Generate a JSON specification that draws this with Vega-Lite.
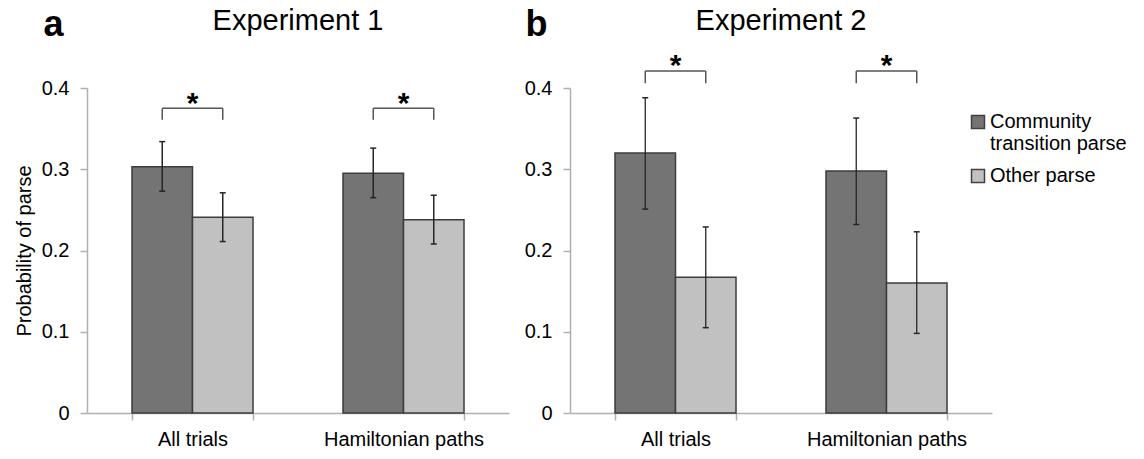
{
  "$schema": "https://vega.github.io/schema/vega-lite/v6.json",
  "padding": {"left": 14, "top": 6, "right": 4, "bottom": 5},
  "background": "white",
  "config": {
    "view": {"stroke": null},
    "font": "Liberation Sans",
    "title": {"fontSize": 29, "fontWeight": "normal", "color": "#000000", "anchor": "middle", "frame": "group", "offset": -30},
    "axis": {"domainColor": "#b0b0b0", "domainWidth": 1.5, "tickColor": "#b0b0b0", "tickWidth": 1.5, "tickSize": 7, "labelColor": "#000000", "labelFontSize": 20, "grid": false, "titleColor": "#000000"}
  },
  "datasets": {
    "bars": [
      {"exp": "Experiment 1", "cat": "All trials", "group": "Community transition parse", "value": 0.303, "lo": 0.273, "hi": 0.334},
      {"exp": "Experiment 1", "cat": "All trials", "group": "Other parse", "value": 0.241, "lo": 0.211, "hi": 0.271},
      {"exp": "Experiment 1", "cat": "Hamiltonian paths", "group": "Community transition parse", "value": 0.295, "lo": 0.265, "hi": 0.326},
      {"exp": "Experiment 1", "cat": "Hamiltonian paths", "group": "Other parse", "value": 0.238, "lo": 0.208, "hi": 0.268},
      {"exp": "Experiment 2", "cat": "All trials", "group": "Community transition parse", "value": 0.320, "lo": 0.251, "hi": 0.388},
      {"exp": "Experiment 2", "cat": "All trials", "group": "Other parse", "value": 0.167, "lo": 0.105, "hi": 0.229},
      {"exp": "Experiment 2", "cat": "Hamiltonian paths", "group": "Community transition parse", "value": 0.298, "lo": 0.232, "hi": 0.363},
      {"exp": "Experiment 2", "cat": "Hamiltonian paths", "group": "Other parse", "value": 0.160, "lo": 0.098, "hi": 0.223}
    ],
    "brackets": [
      {"exp": "Experiment 1", "cat": "All trials", "top": 0.375, "leg": 0.361, "star": 0.387, "label": "*"},
      {"exp": "Experiment 1", "cat": "Hamiltonian paths", "top": 0.375, "leg": 0.361, "star": 0.387, "label": "*"},
      {"exp": "Experiment 2", "cat": "All trials", "top": 0.421, "leg": 0.406, "star": 0.433, "label": "*"},
      {"exp": "Experiment 2", "cat": "Hamiltonian paths", "top": 0.421, "leg": 0.406, "star": 0.433, "label": "*"}
    ]
  },
  "bounds": "flush",
  "spacing": 61,
  "resolve": {"legend": {"color": "independent"}},
  "hconcat": [
    {
      "width": 422,
      "height": 325,
      "title": {"text": "Experiment 1"},
      "layer": [
        {
          "data": {"name": "bars"},
          "transform": [{"filter": "datum.exp == 'Experiment 1'"}],
          "mark": {"type": "bar", "stroke": "#3c3c3c", "strokeWidth": 1.5},
          "encoding": {
            "x": {"field": "cat", "type": "nominal", "sort": ["All trials", "Hamiltonian paths"], "scale": {"paddingInner": 0.4265, "paddingOuter": 0.21325},
              "axis": {"labelAngle": 0, "tickBand": "extent", "labelPadding": 9, "title": "a", "titleFontSize": 36, "titleFontWeight": "bold", "titleX": -34, "titleY": -378, "titleAlign": "center", "titleBaseline": "alphabetic", "titleAngle": 0}},
            "xOffset": {"field": "group", "type": "nominal", "sort": ["Community transition parse", "Other parse"], "scale": {"paddingInner": 0, "paddingOuter": 0}},
            "y": {"field": "value", "type": "quantitative", "scale": {"domain": [0, 0.4]},
              "axis": {"values": [0, 0.1, 0.2, 0.3, 0.4], "labelExpr": "datum.value == 0 ? '0' : format(datum.value, '.1f')", "labelPadding": 11, "title": "Probability of parse", "titleFontSize": 20, "titleFontWeight": "normal", "titlePadding": 7}},
            "color": {"field": "group", "type": "nominal", "sort": ["Community transition parse", "Other parse"], "scale": {"domain": ["Community transition parse", "Other parse"], "range": ["#747474", "#c1c1c1"]}, "legend": null}
          }
        },
        {
          "data": {"name": "bars"},
          "transform": [{"filter": "datum.exp == 'Experiment 1'"}],
          "mark": {"type": "rule", "color": "#262626", "strokeWidth": 1.5},
          "encoding": {
            "x": {"field": "cat", "type": "nominal", "sort": ["All trials", "Hamiltonian paths"]},
            "xOffset": {"field": "group", "type": "nominal", "sort": ["Community transition parse", "Other parse"]},
            "y": {"field": "lo", "type": "quantitative"},
            "y2": {"field": "hi"}
          }
        },
        {
          "data": {"name": "bars"},
          "transform": [{"filter": "datum.exp == 'Experiment 1'"}],
          "mark": {"type": "tick", "orient": "horizontal", "size": 6, "thickness": 1.5, "color": "#262626", "opacity": 1},
          "encoding": {
            "x": {"field": "cat", "type": "nominal", "sort": ["All trials", "Hamiltonian paths"]},
            "xOffset": {"field": "group", "type": "nominal", "sort": ["Community transition parse", "Other parse"]},
            "y": {"field": "lo", "type": "quantitative"}
          }
        },
        {
          "data": {"name": "bars"},
          "transform": [{"filter": "datum.exp == 'Experiment 1'"}],
          "mark": {"type": "tick", "orient": "horizontal", "size": 6, "thickness": 1.5, "color": "#262626", "opacity": 1},
          "encoding": {
            "x": {"field": "cat", "type": "nominal", "sort": ["All trials", "Hamiltonian paths"]},
            "xOffset": {"field": "group", "type": "nominal", "sort": ["Community transition parse", "Other parse"]},
            "y": {"field": "hi", "type": "quantitative"}
          }
        },
        {
          "data": {"name": "brackets"},
          "transform": [{"filter": "datum.exp == 'Experiment 1'"}],
          "mark": {"type": "rule", "color": "#555555", "strokeWidth": 1.5},
          "encoding": {
            "x": {"field": "cat", "type": "nominal", "sort": ["All trials", "Hamiltonian paths"], "bandPosition": 0.25},
            "x2": {"field": "cat", "bandPosition": 0.75},
            "y": {"field": "top", "type": "quantitative"}
          }
        },
        {
          "data": {"name": "brackets"},
          "transform": [{"filter": "datum.exp == 'Experiment 1'"}],
          "mark": {"type": "rule", "color": "#555555", "strokeWidth": 1.5},
          "encoding": {
            "x": {"field": "cat", "type": "nominal", "sort": ["All trials", "Hamiltonian paths"], "bandPosition": 0.25},
            "y": {"field": "top", "type": "quantitative"},
            "y2": {"field": "leg"}
          }
        },
        {
          "data": {"name": "brackets"},
          "transform": [{"filter": "datum.exp == 'Experiment 1'"}],
          "mark": {"type": "rule", "color": "#555555", "strokeWidth": 1.5},
          "encoding": {
            "x": {"field": "cat", "type": "nominal", "sort": ["All trials", "Hamiltonian paths"], "bandPosition": 0.75},
            "y": {"field": "top", "type": "quantitative"},
            "y2": {"field": "leg"}
          }
        },
        {
          "data": {"name": "brackets"},
          "transform": [{"filter": "datum.exp == 'Experiment 1'"}],
          "mark": {"type": "text", "fontSize": 30, "fontWeight": "bold", "color": "#000000", "baseline": "alphabetic", "dy": 14},
          "encoding": {
            "x": {"field": "cat", "type": "nominal", "sort": ["All trials", "Hamiltonian paths"]},
            "y": {"field": "star", "type": "quantitative"},
            "text": {"field": "label"}
          }
        }
      ]
    },
    {
      "width": 422,
      "height": 325,
      "title": {"text": "Experiment 2"},
      "layer": [
        {
          "data": {"name": "bars"},
          "transform": [{"filter": "datum.exp == 'Experiment 2'"}],
          "mark": {"type": "bar", "stroke": "#3c3c3c", "strokeWidth": 1.5},
          "encoding": {
            "x": {"field": "cat", "type": "nominal", "sort": ["All trials", "Hamiltonian paths"], "scale": {"paddingInner": 0.4265, "paddingOuter": 0.21325},
              "axis": {"labelAngle": 0, "tickBand": "extent", "labelPadding": 9, "title": "b", "titleFontSize": 36, "titleFontWeight": "bold", "titleX": -34, "titleY": -378, "titleAlign": "center", "titleBaseline": "alphabetic", "titleAngle": 0}},
            "xOffset": {"field": "group", "type": "nominal", "sort": ["Community transition parse", "Other parse"], "scale": {"paddingInner": 0, "paddingOuter": 0}},
            "y": {"field": "value", "type": "quantitative", "scale": {"domain": [0, 0.4]},
              "axis": {"values": [0, 0.1, 0.2, 0.3, 0.4], "labelExpr": "datum.value == 0 ? '0' : format(datum.value, '.1f')", "labelPadding": 11, "title": null}},
            "color": {"field": "group", "type": "nominal", "sort": ["Community transition parse", "Other parse"], "scale": {"domain": ["Community transition parse", "Other parse"], "range": ["#747474", "#c1c1c1"]},
              "legend": {"orient": "none", "legendX": 398, "legendY": 24, "title": null, "padding": 0, "symbolType": "square", "symbolSize": 169, "symbolStrokeColor": "#404040", "symbolStrokeWidth": 1.5, "labelFontSize": 20, "labelColor": "#000000", "labelOffset": 2, "labelLimit": 300, "rowPadding": 12, "labelExpr": "datum.label == 'Community transition parse' ? ['Community', 'transition parse'] : datum.label"}}
          }
        },
        {
          "data": {"name": "bars"},
          "transform": [{"filter": "datum.exp == 'Experiment 2'"}],
          "mark": {"type": "rule", "color": "#262626", "strokeWidth": 1.3},
          "encoding": {
            "x": {"field": "cat", "type": "nominal", "sort": ["All trials", "Hamiltonian paths"]},
            "xOffset": {"field": "group", "type": "nominal", "sort": ["Community transition parse", "Other parse"]},
            "y": {"field": "lo", "type": "quantitative"},
            "y2": {"field": "hi"}
          }
        },
        {
          "data": {"name": "bars"},
          "transform": [{"filter": "datum.exp == 'Experiment 2'"}],
          "mark": {"type": "tick", "orient": "horizontal", "size": 6, "thickness": 1.5, "color": "#262626", "opacity": 1},
          "encoding": {
            "x": {"field": "cat", "type": "nominal", "sort": ["All trials", "Hamiltonian paths"]},
            "xOffset": {"field": "group", "type": "nominal", "sort": ["Community transition parse", "Other parse"]},
            "y": {"field": "lo", "type": "quantitative"}
          }
        },
        {
          "data": {"name": "bars"},
          "transform": [{"filter": "datum.exp == 'Experiment 2'"}],
          "mark": {"type": "tick", "orient": "horizontal", "size": 6, "thickness": 1.5, "color": "#262626", "opacity": 1},
          "encoding": {
            "x": {"field": "cat", "type": "nominal", "sort": ["All trials", "Hamiltonian paths"]},
            "xOffset": {"field": "group", "type": "nominal", "sort": ["Community transition parse", "Other parse"]},
            "y": {"field": "hi", "type": "quantitative"}
          }
        },
        {
          "data": {"name": "brackets"},
          "transform": [{"filter": "datum.exp == 'Experiment 2'"}],
          "mark": {"type": "rule", "color": "#555555", "strokeWidth": 1.5},
          "encoding": {
            "x": {"field": "cat", "type": "nominal", "sort": ["All trials", "Hamiltonian paths"], "bandPosition": 0.25},
            "x2": {"field": "cat", "bandPosition": 0.75},
            "y": {"field": "top", "type": "quantitative"}
          }
        },
        {
          "data": {"name": "brackets"},
          "transform": [{"filter": "datum.exp == 'Experiment 2'"}],
          "mark": {"type": "rule", "color": "#555555", "strokeWidth": 1.5},
          "encoding": {
            "x": {"field": "cat", "type": "nominal", "sort": ["All trials", "Hamiltonian paths"], "bandPosition": 0.25},
            "y": {"field": "top", "type": "quantitative"},
            "y2": {"field": "leg"}
          }
        },
        {
          "data": {"name": "brackets"},
          "transform": [{"filter": "datum.exp == 'Experiment 2'"}],
          "mark": {"type": "rule", "color": "#555555", "strokeWidth": 1.5},
          "encoding": {
            "x": {"field": "cat", "type": "nominal", "sort": ["All trials", "Hamiltonian paths"], "bandPosition": 0.75},
            "y": {"field": "top", "type": "quantitative"},
            "y2": {"field": "leg"}
          }
        },
        {
          "data": {"name": "brackets"},
          "transform": [{"filter": "datum.exp == 'Experiment 2'"}],
          "mark": {"type": "text", "fontSize": 30, "fontWeight": "bold", "color": "#000000", "baseline": "alphabetic", "dy": 14},
          "encoding": {
            "x": {"field": "cat", "type": "nominal", "sort": ["All trials", "Hamiltonian paths"]},
            "y": {"field": "star", "type": "quantitative"},
            "text": {"field": "label"}
          }
        }
      ]
    }
  ]
}
